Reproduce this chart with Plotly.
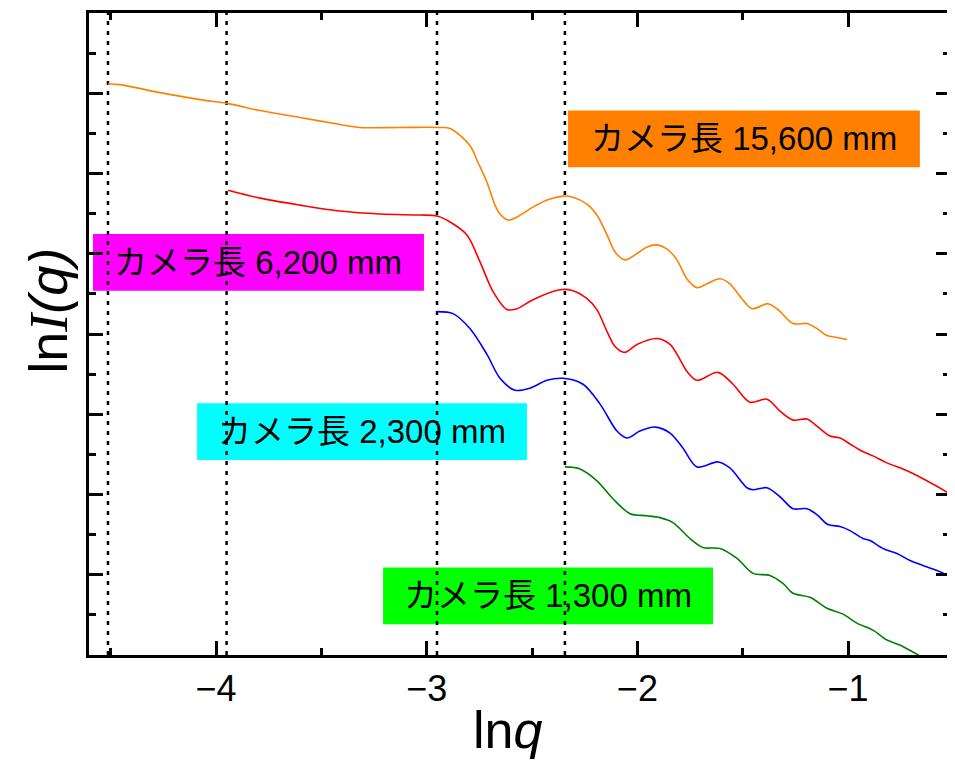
import plotly.graph_objects as go

# ---- data ----
orange_x = [-4.513, -4.456, -4.266, -4.076, -3.943, -3.791, -3.601, -3.411, -3.317, -3.127, -2.937, -2.889,
            -2.795, -2.757, -2.714, -2.676, -2.652, -2.614, -2.571, -2.496, -2.415, -2.353, -2.306, -2.239,
            -2.192, -2.144, -2.106, -2.059, -2.011, -1.954, -1.907, -1.860, -1.812, -1.765, -1.717, -1.670,
            -1.608, -1.561, -1.504, -1.456, -1.380, -1.333, -1.261, -1.195, -1.148, -1.100, -1.053, -1.005]
orange_y = [7.119, 7.107, 7.008, 6.921, 6.871, 6.784, 6.698, 6.611, 6.574, 6.574, 6.574, 6.561,
            6.350, 6.140, 5.891, 5.606, 5.495, 5.420, 5.457, 5.581, 5.681, 5.718, 5.705, 5.619,
            5.482, 5.234, 5.023, 4.924, 4.986, 5.085, 5.110, 5.060, 4.924, 4.688, 4.577, 4.626,
            4.688, 4.626, 4.440, 4.316, 4.378, 4.304, 4.130, 4.130, 4.068, 3.981, 3.957, 3.932]

red_x = [-3.943, -3.791, -3.601, -3.411, -3.222, -3.032, -2.951, -2.889, -2.809, -2.747, -2.685, -2.619,
         -2.571, -2.496, -2.367, -2.306, -2.239, -2.192, -2.144, -2.106, -2.059, -2.002, -1.907, -1.845,
         -1.798, -1.765, -1.717, -1.618, -1.546, -1.466, -1.385, -1.323, -1.261, -1.195, -1.148, -1.086,
         -1.038, -0.991, -0.944, -0.882, -0.815, -0.720, -0.626, -0.516]
red_y = [5.792, 5.693, 5.606, 5.532, 5.495, 5.482, 5.470, 5.395, 5.234, 4.899, 4.527, 4.304,
         4.316, 4.428, 4.552, 4.540, 4.440, 4.304, 4.031, 3.845, 3.771, 3.870, 3.944, 3.870,
         3.684, 3.535, 3.423, 3.522, 3.374, 3.150, 3.188, 3.039, 2.927, 2.940, 2.853, 2.729,
         2.704, 2.630, 2.555, 2.481, 2.394, 2.295, 2.171, 2.009]

blue_x = [-2.951, -2.875, -2.795, -2.714, -2.652, -2.581, -2.510, -2.429, -2.353, -2.258, -2.177, -2.097,
          -2.049, -1.988, -1.916, -1.845, -1.784, -1.717, -1.618, -1.561, -1.480, -1.451, -1.385, -1.323,
          -1.261, -1.195, -1.148, -1.095, -1.038, -0.991, -0.929, -0.896, -0.834, -0.768, -0.706, -0.645,
          -0.578, -0.516]
blue_y = [4.279, 4.254, 4.068, 3.746, 3.448, 3.299, 3.324, 3.423, 3.448, 3.374, 3.126, 2.791,
          2.704, 2.791, 2.840, 2.766, 2.580, 2.344, 2.406, 2.332, 2.084, 2.059, 2.084, 1.972,
          1.823, 1.823, 1.749, 1.625, 1.600, 1.550, 1.451, 1.426, 1.327, 1.265, 1.178, 1.116,
          1.054, 0.980]

green_x = [-2.344, -2.272, -2.192, -2.116, -2.035, -1.954, -1.893, -1.831, -1.750, -1.689, -1.608, -1.527,
           -1.451, -1.371, -1.309, -1.261, -1.181, -1.100, -1.024, -0.958, -0.882, -0.815, -0.754, -0.692,
           -0.649]
green_y = [2.344, 2.319, 2.171, 1.947, 1.761, 1.736, 1.712, 1.650, 1.451, 1.340, 1.327, 1.203,
           1.017, 0.992, 0.893, 0.769, 0.719, 0.583, 0.509, 0.397, 0.310, 0.186, 0.124, 0.037,
           -0.025]

series_names = ["15,600 mm", "6,200 mm", "2,300 mm", "1,300 mm"]
series_colors = ["#FF8000", "#FF0000", "#0000FF", "#008000"]
label_colors = ["#FF8000", "#FF00FF", "#00FFFF", "#00FF00"]
start_lines = [-4.513, -3.950, -2.951, -2.344]
x_ticks = [-4, -3, -2, -1]
x_tick_text = ["\u22124", "\u22123", "\u22122", "\u22121"]

fig = go.Figure()

# dotted guide lines at curve starts
for xv in start_lines:
    fig.add_trace(go.Scatter(x=[xv, xv], y=[0, 8], mode="lines",
                             line=dict(color="black", width=2.5, dash="4px,6px"),
                             hoverinfo="skip", showlegend=False))

xs = [orange_x, red_x, blue_x, green_x]
ys = [orange_y, red_y, blue_y, green_y]
for x, y, c, n in zip(xs, ys, series_colors, series_names):
    fig.add_trace(go.Scatter(x=x, y=y, mode="lines", name=n,
                             line=dict(color=c, width=1.6, shape="spline", smoothing=0.9),
                             showlegend=False))

# label boxes (x0, x1, y0, y1 in data coords)
boxes = [(-2.329, -0.659, 6.078, 6.784),
         (-4.584, -3.013, 4.540, 5.246),
         (-4.090, -2.524, 2.431, 3.138),
         (-3.207, -1.641, 0.384, 1.091)]
for (x0, x1, y0, y1), col, n in zip(boxes, label_colors, series_names):
    fig.add_shape(type="rect", x0=x0, x1=x1, y0=y0, y1=y1, layer="below",
                  fillcolor=col, line=dict(width=0))
    fig.add_annotation(x=(x0 + x1) / 2, y=(y0 + y1) / 2, text="カメラ長 " + n,
                       showarrow=False, xanchor="center", yanchor="middle",
                       font=dict(family="Liberation Sans, Noto Sans CJK JP", size=33, color="black"))

# axis titles
fig.add_annotation(xref="paper", yref="paper", x=0.4855, y=-0.117,
                   text="ln<i>q</i>", showarrow=False, xanchor="center", yanchor="middle",
                   font=dict(family="Liberation Sans", size=52, color="black"))
fig.add_annotation(xref="paper", yref="paper", x=-0.0465, y=0.536, textangle=-90,
                   text="ln<i><span style='font-family:Liberation Serif'>I</span>(q)</i>",
                   showarrow=False, xanchor="center", yanchor="middle",
                   font=dict(family="Liberation Sans", size=54, color="black"))

axis_common = dict(showline=True, linecolor="black", linewidth=3, mirror="ticks",
                   ticks="inside", tickcolor="black", tickwidth=2.5, ticklen=14,
                   showgrid=False, zeroline=False)
fig.update_xaxes(range=[-4.603, -0.516], tickvals=x_ticks, ticktext=x_tick_text,
                 tickfont=dict(family="Liberation Sans Narrow, Liberation Sans", size=36, color="black"),
                 minor=dict(dtick=0.5, tick0=0, ticks="inside", ticklen=7, tickwidth=2.5, tickcolor="black"),
                 **axis_common)
fig.update_yaxes(range=[0, 8], dtick=1, tick0=0, showticklabels=False,
                 minor=dict(dtick=0.5, tick0=0, ticks="inside", ticklen=7, tickwidth=2.5, tickcolor="black"),
                 **axis_common)

# page body adds an 8px offset; size the figure so the plot area lands where the reference has it
fig.update_layout(width=947, height=752, margin=dict(l=81, r=5, t=2, b=105),
                  paper_bgcolor="white", plot_bgcolor="white")

fig.write_html("out.html")
